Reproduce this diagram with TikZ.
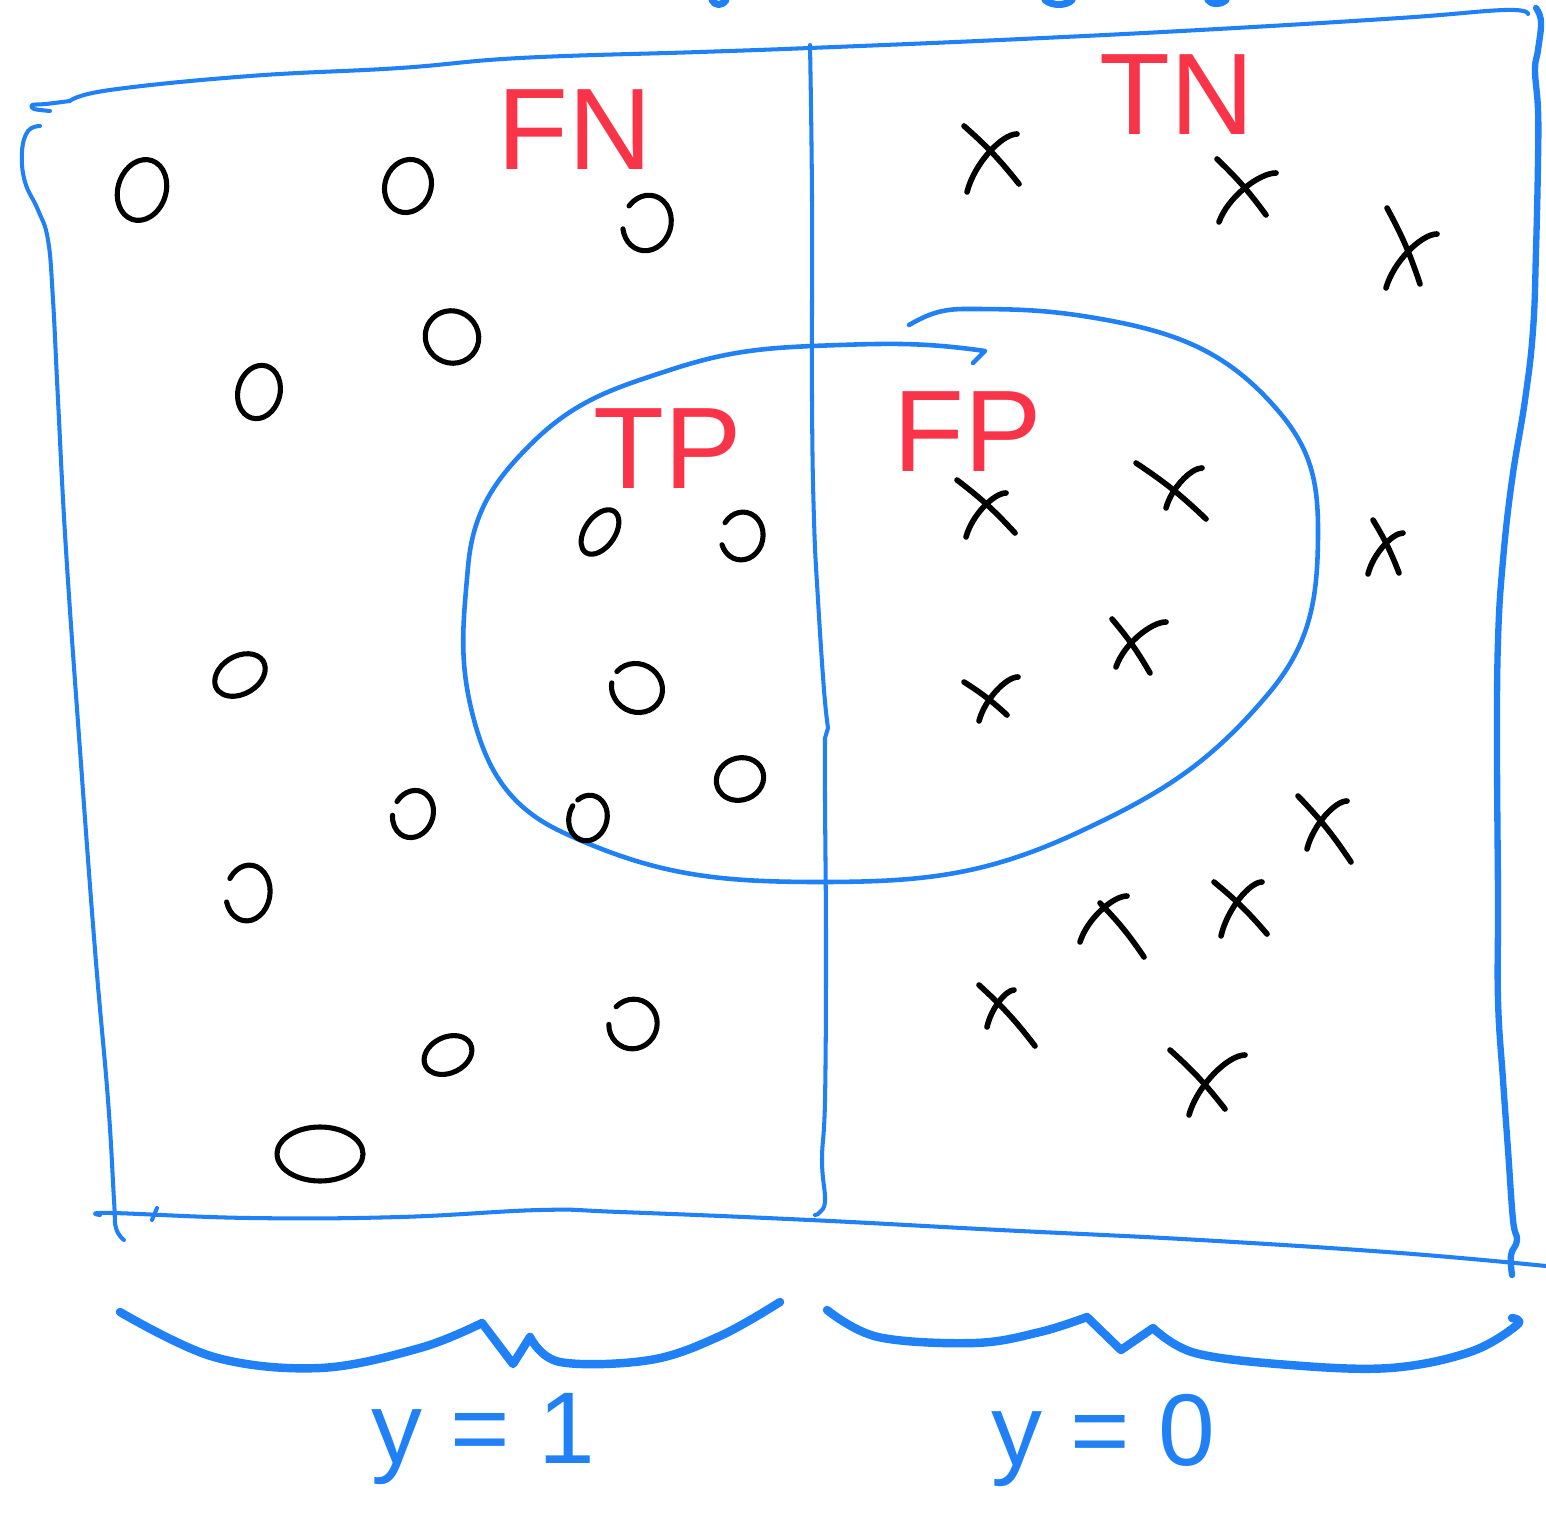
\documentclass[tikz,border=0pt]{standalone}
\usepackage{fontspec}
\setmainfont{Liberation Sans}
\definecolor{pen}{RGB}{32,128,246}
\definecolor{ink}{RGB}{250,52,72}
\newcommand\drawo[7]{%
  \begin{scope}[shift={(#1,#2)},rotate=#5]
    \draw[oline] (#6:#3 and #4) arc[start angle=#6,end angle=#7,x radius=#3,y radius=#4];
  \end{scope}}
\newcommand\drawx[8]{%
  \draw[xline] (#1,#2) to[bend left=5] (#3,#4);
  \draw[xline] (#5,#6) .. controls ({#5+0.15*(#7-#5)},{#6+0.5*(#8-#6)}) and ({#7-0.3*(#7-#5)},#8) .. (#7,#8);}
\begin{document}
\begin{tikzpicture}[x=0.01cm,y=-0.01cm,line cap=round,line join=round,
  boxline/.style={pen,line width=1.15pt},
  braceline/.style={pen,line width=2.4pt},
  oline/.style={black,line width=1.45pt},
  xline/.style={black,line width=1.6pt},
  redlab/.style={ink,font=\fontsize{33}{36}\selectfont,inner sep=0pt},
  bluelab/.style={pen,font=\fontsize{29}{32}\selectfont,inner sep=0pt}]
\useasboundingbox (0,0) rectangle (1546,1522);

% cut-off strokes at the top edge
\draw[boxline,line width=2pt] (712,0) .. controls (715,6) and (722,6) .. (726,0);
\draw[boxline,line width=2pt] (1045,0) .. controls (1052,6) and (1066,6) .. (1072,0);
\draw[boxline,line width=2pt] (1208,0) .. controls (1212,5) and (1220,5) .. (1226,0);

% box
\draw[boxline] plot[smooth,tension=0.5] coordinates {(50,111) (34,109) (32,105) (46,104) (70,101)} -- plot[smooth,tension=0.7] coordinates {(70,101) (110,90) (250,76) (400,68) (520,58) (700,52) (810,48) (1000,40) (1200,30) (1400,18) (1505,10) (1528,14)};
\draw[boxline] plot[smooth,tension=0.7] coordinates {(40,126) (28,131) (22,152) (25,182) (38,210) (48,240) (53,300) (58,400) (66,550) (80,750) (95,950) (108,1100) (114,1200) (116,1228) (124,1240)};
\draw[boxline] plot[smooth,tension=0.7] coordinates {(100,1215) (112,1213) (250,1218) (400,1217) (540,1210) (620,1212) (810,1220) (1000,1230) (1200,1240) (1400,1253) (1546,1266)};
\draw[boxline] (157,1208) -- (152,1220);
\draw[boxline,line width=1.8pt] plot[smooth,tension=0.7] coordinates {(1536,8) (1541,22) (1538,50) (1535,70) (1538,110) (1538,160) (1536,250) (1533,330) (1525,400) (1512,480) (1503,560) (1498,640) (1497,750) (1498,900) (1498,1000) (1503,1080) (1508,1150) (1513,1220) (1517,1240) (1511,1255) (1512,1275)};
\draw[boxline] plot[smooth,tension=0.7] coordinates {(810,45) (812,200) (812,400) (814,520) (818,600) (824,690) (828,728)} -- (825,738) -- plot[smooth,tension=0.7] coordinates {(825,738) (825,800) (826,950) (825,1100) (822,1160) (825,1200) (820,1212) (815,1215)};

% predicted-positive region
\draw[boxline,line width=1.3pt]
  (909,325) to[out=30,in=180] (965,309)
  to[out=0,in=170] (1101,319)
  to[out=-10,in=130] (1280,413)
  to[out=-50,in=90] (1318,530)
  to[out=-90,in=50] (1269,693)
  to[out=-130,in=25] (1079,832)
  to[out=-155,in=0] (820,882)
  to[out=180,in=-25] (562,832)
  to[out=155,in=-75] (474,720)
  to[out=105,in=-95] (468,567)
  to[out=85,in=-135] (530,445)
  to[out=45,in=198] (673,369)
  to[out=18,in=182] (840,345)
  to[out=2,in=172] (985,351)
  -- (973,363);

% braces
\draw[braceline] plot[smooth,tension=0.6] coordinates {(120,1312) (214,1357) (320,1368) (420,1348) (482,1323)} -- (513,1364) -- (530,1337) -- plot[smooth,tension=0.6] coordinates {(530,1337) (560,1362) (650,1360) (720,1336) (780,1302)};
\draw[braceline] plot[smooth,tension=0.6] coordinates {(827,1310) (878,1337) (975,1343) (1040,1332) (1087,1317)} -- (1121,1350) -- (1153,1328) -- plot[smooth,tension=0.6] coordinates {(1153,1328) (1195,1353) (1290,1365) (1390,1368) (1470,1352) (1517,1325) (1512,1318)};

% labels
\node[redlab] (fn) at (575,130) {FN};
\node[redlab] (tn) at (1177,95) {TN};
\node[redlab] (tp) at (668,449) {TP};
\node[redlab] (fp) at (968,432) {FP};
\node[bluelab,anchor=base] (y1) at (483,1463) {y = 1};
\node[bluelab,anchor=base] (y0) at (1103,1465) {y = 0};

% positives (o)
\drawo{142}{190}{24}{31}{-18}{215}{585}
\drawo{408}{186}{23}{27}{-20}{215}{580}
\drawo{647}{223}{24}{28}{-15}{205}{515}
\drawo{452}{337}{27}{26}{-30}{215}{580}
\drawo{259}{392}{21}{27}{-15}{215}{580}
\drawo{600}{532}{15}{25}{-35}{200}{570}
\drawo{742}{536}{21}{24}{-10}{205}{510}
\drawo{240}{675}{27}{19}{30}{200}{565}
\drawo{637}{688}{26}{24}{-30}{190}{520}
\drawo{740}{779}{24}{21}{20}{200}{570}
\drawo{413}{814}{20}{24}{-20}{195}{520}
\drawo{588}{818}{19}{23}{-15}{220}{560}
\drawo{248}{893}{22}{28}{-8}{205}{515}
\drawo{448}{1055}{25}{18}{25}{190}{560}
\drawo{633}{1024}{24}{25}{-25}{200}{515}
\drawo{320}{1154}{43}{27}{0}{180}{545}

% negatives (x)
\drawx{964}{126}{1019}{184}{967}{192}{1017}{134}
\drawx{1217}{159}{1266}{215}{1219}{222}{1276}{173}
\drawx{1387}{208}{1420}{284}{1386}{288}{1437}{234}
\drawx{957}{480}{1015}{533}{966}{537}{1006}{493}
\drawx{1136}{463}{1206}{519}{1166}{508}{1202}{468}
\drawx{1373}{520}{1399}{573}{1368}{574}{1403}{533}
\drawx{1112}{619}{1150}{673}{1116}{667}{1166}{622}
\drawx{964}{682}{1007}{715}{979}{721}{1018}{677}
\drawx{1298}{796}{1351}{862}{1307}{849}{1347}{801}
\drawx{1214}{882}{1267}{934}{1221}{936}{1262}{882}
\drawx{1100}{903}{1144}{957}{1080}{942}{1127}{896}
\drawx{979}{985}{1035}{1046}{987}{1027}{1014}{990}
\drawx{1170}{1050}{1225}{1109}{1189}{1115}{1245}{1055}
\end{tikzpicture}
\end{document}
